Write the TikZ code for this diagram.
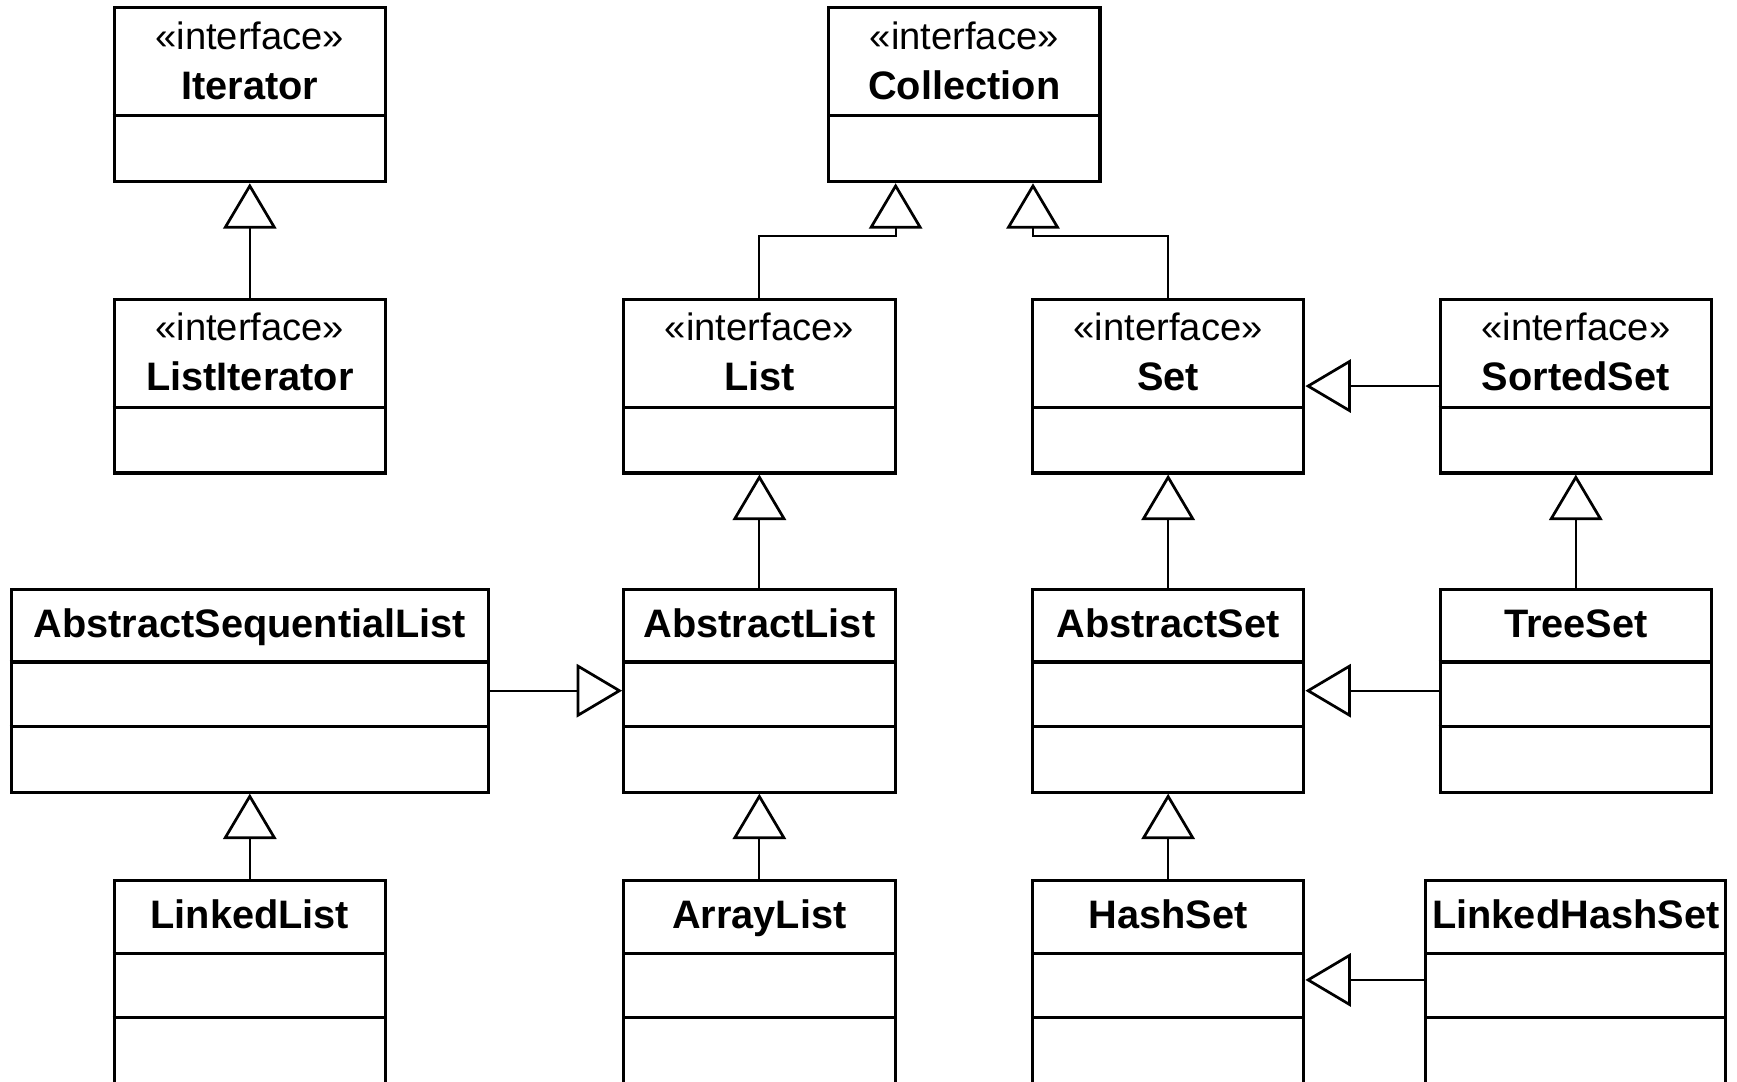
\documentclass[tikz,border=0pt]{standalone}
\usepackage{fontspec}
\setmainfont{Liberation Sans}
\usetikzlibrary{arrows.meta,positioning,calc,fit}

\tikzset{
  umlbox/.style={draw, line width=0.8pt, inner sep=0pt},
  divider/.style={line width=0.8pt},
  stereo/.style={anchor=base, font=\fontsize{9.8pt}{11pt}\selectfont},
  classname/.style={anchor=base, font=\fontsize{10.2pt}{12pt}\selectfont\bfseries},
  inherit/.style={line width=0.5pt, -{Triangle[open, length=0.41cm, width=0.48cm, line width=0.7pt]}},
}

% interface box: name, left, top, right, title
\newcommand{\umlinterface}[5]{%
  \node[umlbox, fit={(#2,#3) (#4,#3+157)}] (#1) {};
  \draw[divider] ($(#1.north west)+(0,99)$) -- ($(#1.north east)+(0,99)$);
  \node[stereo] (#1-st) at ($(#1.north)+(0,39)$) {«interface»};
  \node[classname] (#1-name) at ($(#1.north)+(0,84)$) {#5};
}
% class box: name, left, top, right, height, title
\newcommand{\umlclass}[6]{%
  \node[umlbox, fit={(#2,#3) (#4,#3+#5)}] (#1) {};
  \draw[divider] ($(#1.north west)+(0,67)$) -- ($(#1.north east)+(0,67)$);
  \draw[divider] ($(#1.north west)+(0,125)$) -- ($(#1.north east)+(0,125)$);
  \node[classname] (#1-name) at ($(#1.north)+(0,45)$) {#6};
}

\begin{document}
\begin{tikzpicture}[x=0.01cm, y=-0.01cm]
    \path[use as bounding box, fill=white] (0,0) rectangle (1568,976);
    \clip (0,0) rectangle (1568,976);

    % Interfaces
    \umlinterface{iter}{103}{7}{348}{Iterator}
    \umlinterface{listiter}{103}{270}{348}{ListIterator}
    \umlinterface{coll}{748}{7}{993}{Collection}
    \umlinterface{list}{563}{270}{808}{List}
    \umlinterface{set}{932}{270}{1177}{Set}
    \umlinterface{sortedset}{1300}{270}{1545}{SortedSet}

    % Abstract classes
    \umlclass{asl}{10}{532}{441}{183}{AbstractSequentialList}
    \umlclass{alist}{563}{532}{808}{183}{AbstractList}
    \umlclass{aset}{932}{532}{1177}{183}{AbstractSet}
    \umlclass{treeset}{1300}{532}{1545}{183}{TreeSet}

    % Concrete classes (cut at the bottom)
    \umlclass{llist}{103}{795}{348}{220}{LinkedList}
    \umlclass{arrlist}{563}{795}{808}{220}{ArrayList}
    \umlclass{hset}{932}{795}{1177}{220}{HashSet}
    \umlclass{lhset}{1287}{795}{1558}{220}{LinkedHashSet}

    % Generalisations
    \coordinate (collL) at ($(coll.south)+(-62,0)$);
    \coordinate (collR) at ($(coll.south)+(62,0)$);
    \draw[inherit] (listiter.north) -- (iter.south);
    \draw[inherit] (list.north) |- ($(collL)+(0,48)$) -- (collL);
    \draw[inherit] (set.north) |- ($(collR)+(0,48)$) -- (collR);
    \draw[inherit] (sortedset.west) -- (set.east);
    \draw[inherit] (alist.north) -- (list.south);
    \draw[inherit] (aset.north) -- (set.south);
    \draw[inherit] (treeset.north) -- (sortedset.south);
    \draw[inherit] (asl.east) -- (alist.west);
    \draw[inherit] (treeset.west) -- (aset.east);
    \draw[inherit] (llist.north) -- (asl.south);
    \draw[inherit] (arrlist.north) -- (alist.south);
    \draw[inherit] (hset.north) -- (aset.south);
    \draw[inherit] ($(lhset.north west)+(0,91)$) -- ($(hset.north east)+(0,91)$);
\end{tikzpicture}
\end{document}
